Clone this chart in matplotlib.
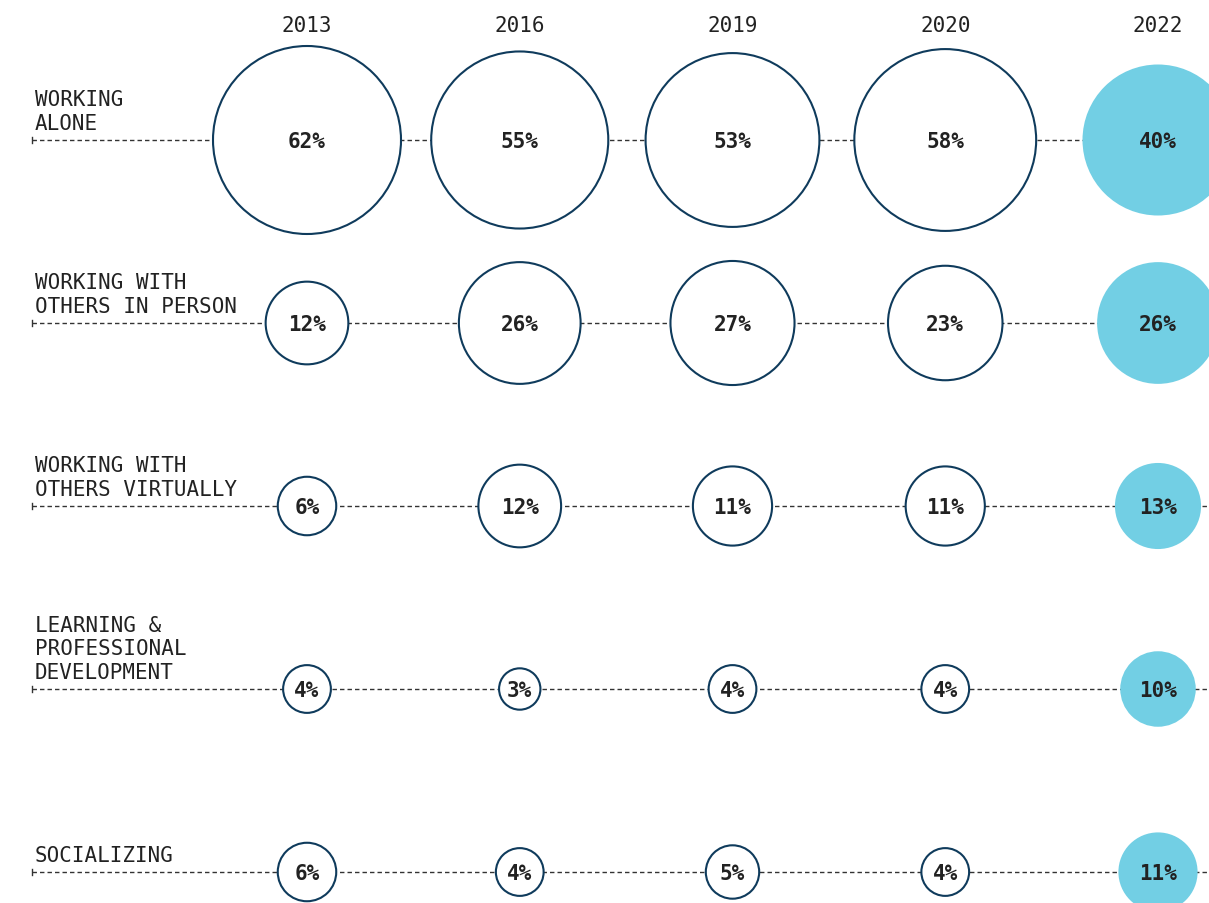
import numpy as np
import matplotlib
matplotlib.use('Agg')
import matplotlib.pyplot as plt
from matplotlib.patches import Circle

# data
years = ['2013', '2016', '2019', '2020', '2022']
categories = ['WORKING\nALONE',
              'WORKING WITH\nOTHERS IN PERSON',
              'WORKING WITH\nOTHERS VIRTUALLY',
              'LEARNING &\nPROFESSIONAL\nDEVELOPMENT',
              'SOCIALIZING']
working_alone = [62, 55, 53, 58, 40]
in_person = [12, 26, 27, 23, 26]
virtually = [6, 12, 11, 11, 13]
learning = [4, 3, 4, 4, 10]
socializing = [6, 4, 5, 4, 11]
values = [working_alone, in_person, virtually, learning, socializing]

W, H = 1209, 904
edge = '#0f3b5c'
fill_2022 = '#72cfe4'
txt = '#222222'
mono = 'DejaVu Sans Mono'

fig = plt.figure(figsize=(W / 100, H / 100), dpi=100)
ax = fig.add_axes([0, 0, 1, 1])
ax.set_xlim(0, W)
ax.set_ylim(H, 0)
ax.set_aspect('equal')
ax.axis('off')

col_x = np.linspace(307, 1158, len(years))
row_y = np.linspace(141, 873, len(categories))
# circle area proportional to the share
k = 94 / np.sqrt(max(working_alone))

for yr, x in zip(years, col_x):
    ax.text(x, 32, yr, ha='center', va='baseline', fontsize=15,
            family=mono, color=txt)

for cat, y, vals in zip(categories, row_y, values):
    # dashed guide line
    ax.plot([32, W + 5], [y, y], color='#333333', lw=1, ls=(0, (3.2, 2.2)), zorder=1)
    ax.plot([32, 32], [y - 3, y + 3], color='#333333', lw=1, zorder=1)
    ax.text(35, y - 11, cat, ha='left', va='baseline', fontsize=15,
            family=mono, color=txt, linespacing=1.22)
    for i, (x, v) in enumerate(zip(col_x, vals)):
        r = k * np.sqrt(v)
        if i == len(vals) - 1:
            c = Circle((x, y), r, facecolor=fill_2022, edgecolor='none', zorder=2)
        else:
            c = Circle((x, y), r, facecolor='white', edgecolor=edge, lw=1.5, zorder=2)
        ax.add_patch(c)
        ax.text(x, y + 7, f'{v}%', ha='center', va='baseline', fontsize=15,
                family=mono, weight='bold', color=txt, zorder=3)

fig.savefig('out.png', dpi=100)
